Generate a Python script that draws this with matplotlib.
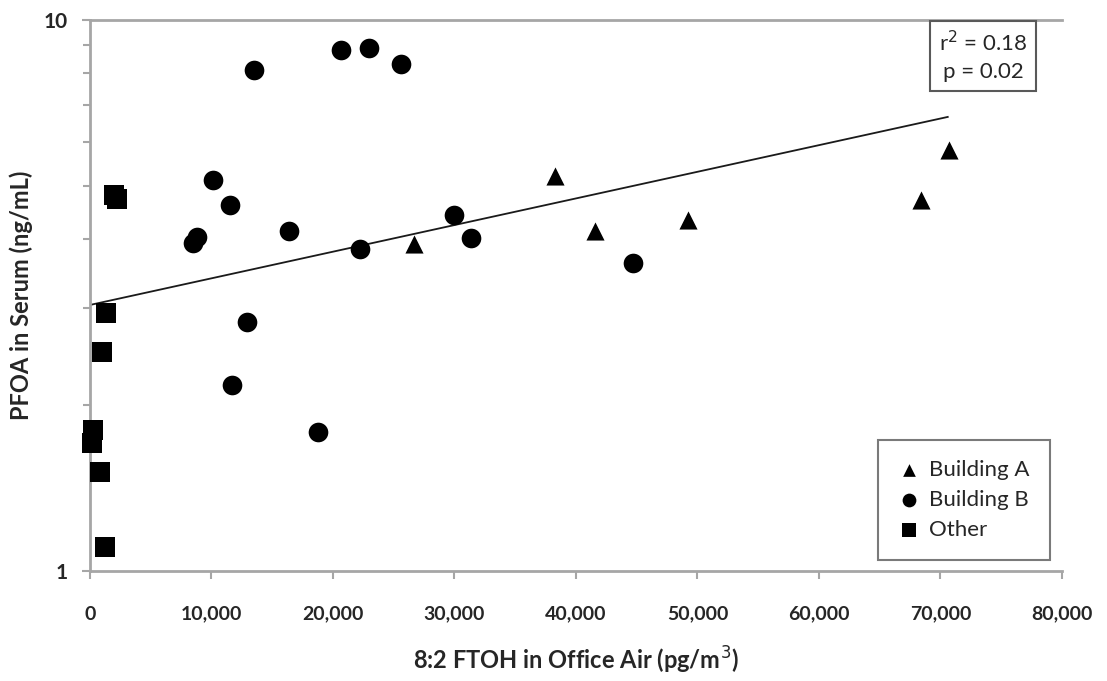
import matplotlib
matplotlib.use("Agg")
from matplotlib import pyplot as plt
from matplotlib.ticker import FixedLocator, FuncFormatter, NullFormatter

plt.rcParams['font.family'] = ['Lato', 'DejaVu Sans']

# Building A (triangles)
a_x = [26700, 38300, 41600, 49200, 68400, 70700]
a_y = [3.92, 5.21, 4.14, 4.34, 4.71, 5.81]

# Building B (circles)
b_x = [8500, 8800, 10100, 11500, 12900, 11700, 13500, 16400, 18800,
       20700, 23000, 22200, 25600, 30000, 31400, 44700]
b_y = [3.94, 4.04, 5.12, 4.62, 2.83, 2.18, 8.11, 4.14, 1.79,
       8.82, 8.90, 3.84, 8.32, 4.43, 4.02, 3.62]

# Other (squares)
o_x = [2000, 2200, 1300, 1000, 250, 160, 800, 1200]
o_y = [4.81, 4.73, 2.94, 2.50, 1.80, 1.71, 1.51, 1.105]

# exponential trendline endpoints (straight on log axis)
trend_x = [0, 70600]
trend_y = [3.04, 6.67]

x_ticks = [0, 10000, 20000, 30000, 40000, 50000, 60000, 70000, 80000]

fig = plt.figure(figsize=(11.07, 6.81), dpi=100)
ax = fig.add_axes([0.0813, 0.1615, 0.8780, 0.8091])

spine_col = '#a6a6a6'
text_col = '#262626'

ax.plot(trend_x, trend_y, color='#1a1a1a', lw=1.3, zorder=2)
ax.scatter(a_x, a_y, marker='^', s=170, color='black', zorder=3, label='Building A',
           linewidths=0, clip_on=False)
ax.scatter(b_x, b_y, marker='o', s=200, color='black', zorder=3, label='Building B',
           linewidths=0, clip_on=False)
ax.scatter(o_x, o_y, marker='s', s=190, color='black', zorder=3, label='Other',
           linewidths=0, clip_on=False)

ax.set_yscale('log')
ax.set_ylim(1, 10)
ax.set_xlim(0, 80000)

ax.xaxis.set_major_locator(FixedLocator(x_ticks))
ax.xaxis.set_major_formatter(FuncFormatter(lambda v, p: '{:,.0f}'.format(v)))
ax.yaxis.set_major_locator(FixedLocator([1, 10]))
ax.yaxis.set_major_formatter(FuncFormatter(lambda v, p: '%d' % v))
ax.yaxis.set_minor_locator(FixedLocator([2, 3, 4, 5, 6, 7, 8, 9]))
ax.yaxis.set_minor_formatter(NullFormatter())

for side in ['left', 'bottom', 'top']:
    ax.spines[side].set_color(spine_col)
    ax.spines[side].set_linewidth(2)
ax.spines['right'].set_visible(False)

ax.tick_params(axis='x', direction='out', length=6, width=1.5, color=spine_col,
               pad=19, labelsize=14, labelcolor=text_col)
ax.tick_params(axis='y', which='major', direction='out', length=6, width=1.5,
               color=spine_col, pad=10, labelsize=15, labelcolor=text_col)
ax.tick_params(axis='y', which='minor', direction='out', length=5, width=1.5,
               color=spine_col)
for lab in ax.get_xticklabels() + ax.get_yticklabels():
    lab.set_fontweight('bold')

ax.set_xlabel('8:2 FTOH in Office Air (pg/m$^3$)', fontsize=17, fontweight='bold',
              color=text_col, labelpad=16)
ax.set_ylabel('PFOA in Serum (ng/mL)', fontsize=17, fontweight='bold',
              color=text_col, labelpad=8)

ax.text(0.919, 0.982, 'r$^2$ = 0.18\np = 0.02', transform=ax.transAxes,
        ha='center', va='top', fontsize=16, color=text_col, linespacing=1.45,
        bbox=dict(boxstyle='square,pad=0.4', fc='white', ec='#595959', lw=1.5))

leg = ax.legend(loc='lower right', bbox_to_anchor=(0.9877, 0.02), fontsize=16,
                frameon=True, fancybox=False, edgecolor='#595959',
                handletextpad=0.4, borderpad=0.9, labelspacing=0.45,
                handlelength=1.0, markerscale=0.7, borderaxespad=0)
leg.get_frame().set_linewidth(1.5)
for t in leg.get_texts():
    t.set_color(text_col)

fig.savefig('out.png', dpi=100)
